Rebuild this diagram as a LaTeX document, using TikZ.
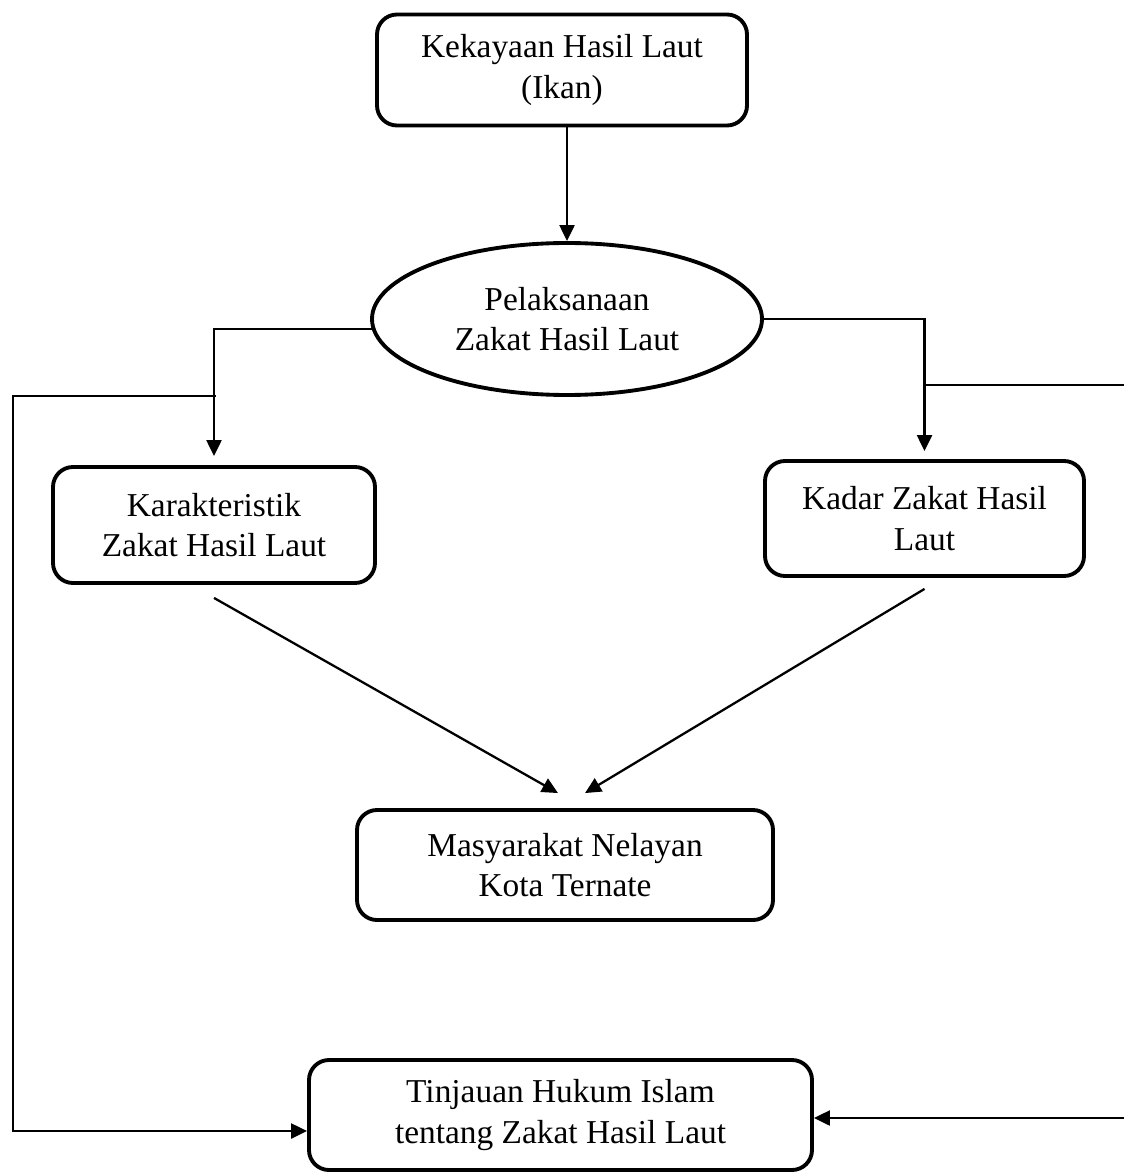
\documentclass[tikz,border=0pt]{standalone}
\usepackage{fontspec}
\setmainfont{Liberation Serif}
\usetikzlibrary{arrows.meta,shapes.geometric}
\tikzset{
	kotak/.style={draw, line width=2.2pt, rounded corners=0.4cm, align=center, inner sep=0pt, font=\fontsize{19}{23}\selectfont},
	bulat/.style={draw, ellipse, line width=2.2pt, align=center, inner sep=0pt, font=\fontsize{19}{23}\selectfont},
	garis/.style={line width=1.3pt},
	panah/.style={garis, -{Triangle[length=0.32cm, width=0.3cm]}}
}

\begin{document}
\begin{tikzpicture}
			%%%%% START %%%%%
			\useasboundingbox (0, 0) rectangle (22.48, -23.48);
			
			\node[kotak, minimum width=7.4cm, minimum height=2.22cm] (kekayaan) at (11.24, -1.4) {Kekayaan Hasil Laut\\(Ikan)};
			\node[bulat, minimum width=7.8cm, minimum height=3.04cm] (pelaksanaan) at (11.34, -6.38) {Pelaksanaan\\Zakat Hasil Laut};
			\node[kotak, minimum width=6.44cm, minimum height=2.32cm] (karakteristik) at (4.28, -10.5) {Karakteristik\\Zakat Hasil Laut};
			\node[kotak, minimum width=6.38cm, minimum height=2.3cm] (kadar) at (18.49, -10.37) {Kadar Zakat Hasil\\Laut};
			\node[kotak, minimum width=8.32cm, minimum height=2.2cm] (masyarakat) at (11.3, -17.3) {Masyarakat Nelayan\\Kota Ternate};
			\node[kotak, minimum width=10.06cm, minimum height=2.2cm] (tinjauan) at (11.21, -22.3) {Tinjauan Hukum Islam\\tentang Zakat Hasil Laut};
			
			\coordinate (kiri) at (4.32, -7.92);
			\coordinate (kanan) at (18.46, -7.7);
			\coordinate (tepikanan) at (22.48, -7.7);
			\coordinate (tepibawah) at (22.48, -22.36);
			
			\draw[panah] (pelaksanaan.north |- kekayaan.south) -- (pelaksanaan.north);
			\draw[panah, shorten >=0.18cm] (pelaksanaan.183) -| (karakteristik);
			\draw[panah, shorten >=0.16cm] (pelaksanaan.east) -| (kadar);
			
			\draw[garis] (kanan) -- (tepikanan);
			\draw[panah] (kiri) -- (0.26, -7.92) |- ([yshift=-0.32cm]tinjauan.west);
			\draw[panah] (tepibawah) -- (tinjauan.east |- tepibawah);
			
			\draw[panah] ([yshift=-0.26cm]karakteristik.south) -- ([xshift=-0.14cm, yshift=0.3cm]masyarakat.north);
			\draw[panah] ([yshift=-0.22cm]kadar.south) -- ([xshift=0.4cm, yshift=0.3cm]masyarakat.north);
			
			%%%%% END %%%%%
\end{tikzpicture}
\end{document}
